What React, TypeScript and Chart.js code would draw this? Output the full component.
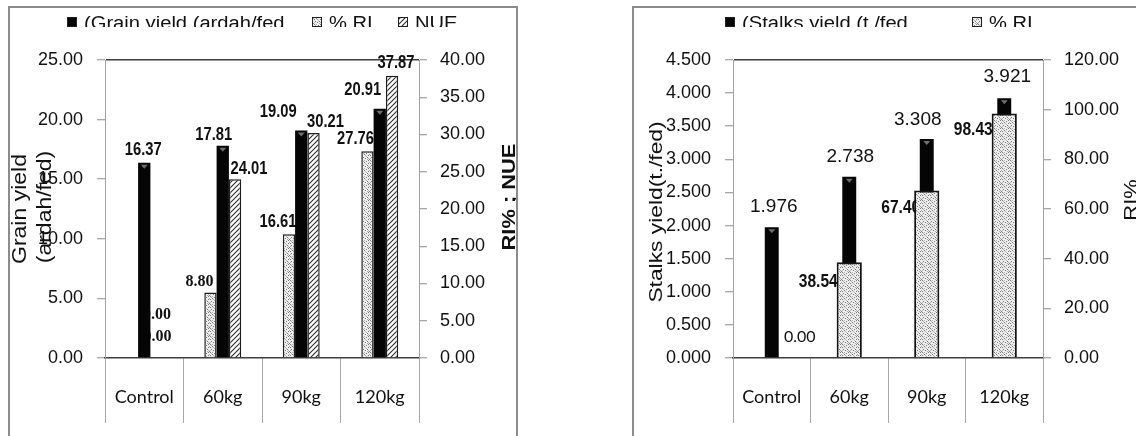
import React, { useEffect, useRef } from 'react';
import { Chart, registerables } from 'chart.js';

Chart.register(...registerables);

// Nitrogen levels shared by both panels
const doseLevels = ['Control', '60kg', '90kg', '120kg'];

// Grain panel series
const grainYield = [16.37, 17.81, 19.09, 20.91];
const grainRI = [0.0, 8.8, 16.61, 27.76];
const grainNUE = [0.0, 24.01, 30.21, 37.87];
const grainYieldTicks = [0, 5, 10, 15, 20, 25];
const grainRiNueTicks = [0, 5, 10, 15, 20, 25, 30, 35, 40];
const grainLegendText = ['(Grain yield (ardah/fed', '% RI', 'NUE'];

// Stalks panel series
const stalksYield = [1.976, 2.738, 3.308, 3.921];
const stalksRI = [0.0, 38.54, 67.4, 98.43];
const stalksYieldTicks = [0, 0.5, 1, 1.5, 2, 2.5, 3, 3.5, 4, 4.5];
const stalksRiTicks = [0, 20, 40, 60, 80, 100, 120];
const stalksLegendText = ['(Stalks yield (t./fed', '% RI'];

const SANS = '"Liberation Sans", Arial, sans-serif';
const TICK_FONT = { family: '"Liberation Sans", Arial, sans-serif', size: 18 };
const CAT_FONT = { family: 'Lato, sans-serif', size: 18 };

type Nudge = [number, number];
interface LabelFont { font: string; squeeze: number }
interface LabelSet {
  dataset: number;
  digits: number;
  style: LabelFont;
  nudge: Nudge[];
  overrides?: (LabelFont | null)[];
}
interface AxisTitle { text: string; x: number; dy: number; font: string; stretch: number }
interface LegendSlot { dataset: number; x: number }
interface LegendStyle { boxTop: number; baseline: number; clipBottom: number; font: string; stretch: number }

function makeStipple(ctx: CanvasRenderingContext2D): CanvasPattern {
  const tile = document.createElement('canvas');
  tile.width = 8;
  tile.height = 8;
  const g = tile.getContext('2d')!;
  g.fillStyle = '#eeeeee';
  g.fillRect(0, 0, 8, 8);
  g.fillStyle = '#7a7a7a';
  [[0, 0], [4, 1], [2, 2], [6, 3], [1, 5], [5, 5], [3, 6], [7, 7], [6, 0], [0, 3]].forEach(([x, y]) =>
    g.fillRect(x, y, 1, 1)
  );
  g.fillStyle = '#b0b0b0';
  [[2, 0], [7, 2], [4, 4], [0, 6], [5, 7], [3, 3], [1, 1], [6, 6]].forEach(([x, y]) => g.fillRect(x, y, 1, 1));
  return ctx.createPattern(tile, 'repeat')!;
}

function makeHatch(ctx: CanvasRenderingContext2D): CanvasPattern {
  const s = 5;
  const tile = document.createElement('canvas');
  tile.width = s;
  tile.height = s;
  const g = tile.getContext('2d')!;
  g.fillStyle = '#ffffff';
  g.fillRect(0, 0, s, s);
  g.strokeStyle = '#2e2e2e';
  g.lineWidth = 1.1;
  g.beginPath();
  g.moveTo(-1, s + 1);
  g.lineTo(s + 1, -1);
  g.moveTo(-1, 1);
  g.lineTo(1, -1);
  g.moveTo(s - 1, s + 1);
  g.lineTo(s + 1, s - 1);
  g.stroke();
  return ctx.createPattern(tile, 'repeat')!;
}

// Value labels sit behind the bars, as in the spreadsheet original
function valueLabelsPlugin(sets: LabelSet[]) {
  return {
    id: 'valueLabels',
    beforeDatasetsDraw(chart: any) {
      const { ctx } = chart;
      sets.forEach((set) => {
        const meta = chart.getDatasetMeta(set.dataset);
        const values = chart.data.datasets[set.dataset].data as number[];
        meta.data.forEach((bar: any, i: number) => {
          const style = (set.overrides && set.overrides[i]) || set.style;
          ctx.save();
          ctx.font = style.font;
          ctx.fillStyle = '#111111';
          ctx.textAlign = 'center';
          ctx.textBaseline = 'middle';
          ctx.translate(bar.x + set.nudge[i][0], bar.y + set.nudge[i][1]);
          ctx.scale(style.squeeze, 1);
          ctx.fillText(values[i].toFixed(set.digits), 0, 0);
          ctx.restore();
        });
      });
    },
  };
}

// Small grey bevel mark on top of the solid black bars
function barCapsPlugin(dataset: number) {
  return {
    id: 'barCaps',
    afterDatasetsDraw(chart: any) {
      const { ctx } = chart;
      const meta = chart.getDatasetMeta(dataset);
      ctx.save();
      ctx.fillStyle = '#6e6e6e';
      meta.data.forEach((bar: any) => {
        const half = Math.min(3.5, bar.width / 2 - 2);
        ctx.beginPath();
        ctx.moveTo(bar.x - half, bar.y + 2);
        ctx.lineTo(bar.x + half, bar.y + 2);
        ctx.lineTo(bar.x, bar.y + 6);
        ctx.closePath();
        ctx.fill();
      });
      ctx.restore();
    },
  };
}

// Rotated axis titles reading bottom-to-top on both sides
function axisTitlesPlugin(titles: AxisTitle[]) {
  return {
    id: 'axisTitles',
    afterDraw(chart: any) {
      const { ctx, chartArea } = chart;
      const cy = (chartArea.top + chartArea.bottom) / 2;
      titles.forEach((t) => {
        ctx.save();
        ctx.translate(t.x, cy + t.dy);
        ctx.rotate(-Math.PI / 2);
        ctx.scale(t.stretch, 1);
        ctx.font = t.font;
        ctx.fillStyle = '#111111';
        ctx.textAlign = 'center';
        ctx.textBaseline = 'middle';
        ctx.fillText(t.text, 0, 0);
        ctx.restore();
      });
    },
  };
}

// Legend row whose text is cut off just above the baseline
function clippedLegendPlugin(slots: LegendSlot[], style: LegendStyle) {
  return {
    id: 'clippedLegend',
    afterDraw(chart: any) {
      const { ctx } = chart;
      slots.forEach((slot) => {
        const ds = chart.data.datasets[slot.dataset];
        ctx.save();
        ctx.fillStyle = ds.backgroundColor;
        ctx.fillRect(slot.x, style.boxTop, 10, 10);
        ctx.strokeStyle = '#222222';
        ctx.lineWidth = 1;
        ctx.strokeRect(slot.x + 0.5, style.boxTop + 0.5, 9, 9);
        ctx.restore();

        ctx.save();
        ctx.beginPath();
        ctx.rect(0, 0, chart.width, style.clipBottom);
        ctx.clip();
        ctx.font = style.font;
        ctx.fillStyle = '#111111';
        ctx.textAlign = 'left';
        ctx.textBaseline = 'alphabetic';
        ctx.translate(slot.x + 17, style.baseline);
        ctx.scale(style.stretch, 1);
        ctx.fillText(ds.label, 0, 0);
        ctx.restore();
      });
    },
  };
}

function valueAxis(
  position: 'left' | 'right',
  ticks: number[],
  digits: number,
  width: number,
  onChart: boolean
) {
  const top = ticks[ticks.length - 1];
  return {
    position,
    min: ticks[0],
    max: top,
    afterBuildTicks: (scale: any) => {
      scale.ticks = ticks.map((value) => ({ value }));
    },
    afterFit: (scale: any) => {
      scale.width = width;
    },
    ticks: {
      callback: (v: any) => Number(v).toFixed(digits),
      font: TICK_FONT,
      color: '#111111',
      padding: position === 'left' ? 14 : 13,
    },
    grid: {
      drawOnChartArea: onChart,
      color: (c: any) => (c.tick && c.tick.value === top ? '#3f3f3f' : 'rgba(0,0,0,0)'),
      lineWidth: 1.5,
      tickColor: '#8c8c8c',
      tickWidth: 1,
      tickLength: 8,
    },
    border: { display: true, color: '#a3a3a3', width: 1 },
  };
}

function categoryAxis() {
  return {
    type: 'category' as const,
    offset: true,
    afterFit: (scale: any) => {
      scale.height = 70;
    },
    grid: {
      offset: true,
      drawOnChartArea: false,
      drawTicks: true,
      tickLength: 65,
      tickColor: '#a8a8a8',
      tickWidth: 1,
      color: '#a8a8a8',
    },
    border: { display: true, color: '#3f3f3f', width: 1.5 },
    ticks: { font: CAT_FONT, color: '#111111', padding: -37, maxRotation: 0, autoSkip: false },
  };
}

const legendStyle: LegendStyle = {
  boxTop: 9,
  baseline: 21,
  clipBottom: 19,
  font: `18px ${SANS}`,
  stretch: 1.12,
};

function GrainPanel() {
  const ref = useRef<HTMLCanvasElement>(null);
  useEffect(() => {
    const canvas = ref.current!;
    const ctx = canvas.getContext('2d')!;
    const stipple = makeStipple(ctx);
    const hatch = makeHatch(ctx);
    const narrow: LabelFont = { font: `bold 18px ${SANS}`, squeeze: 0.82 };
    const serif: LabelFont = { font: 'bold 16px "Liberation Serif", serif', squeeze: 1 };

    const chart = new Chart(canvas, {
      type: 'bar',
      data: {
        labels: doseLevels,
        datasets: [
          {
            label: grainLegendText[1],
            data: grainRI,
            yAxisID: 'y1',
            backgroundColor: stipple,
            borderColor: '#1e1e1e',
            borderWidth: 1.5,
            categoryPercentage: 0.47,
            barPercentage: 1,
          },
          {
            label: grainLegendText[0],
            data: grainYield,
            yAxisID: 'y',
            backgroundColor: '#050505',
            borderWidth: 0,
            categoryPercentage: 0.47,
            barPercentage: 1,
          },
          {
            label: grainLegendText[2],
            data: grainNUE,
            yAxisID: 'y1',
            backgroundColor: hatch,
            borderColor: '#1e1e1e',
            borderWidth: 1.5,
            categoryPercentage: 0.47,
            barPercentage: 1,
          },
        ] as any,
      },
      options: {
        responsive: false,
        animation: false,
        devicePixelRatio: 1,
        layout: { padding: { top: 52, bottom: 8, left: 0, right: 0 } },
        plugins: { legend: { display: false }, tooltip: { enabled: false }, title: { display: false } },
        scales: {
          x: categoryAxis(),
          y: valueAxis('left', grainYieldTicks, 2, 95, true),
          y1: valueAxis('right', grainRiNueTicks, 2, 97, false),
        } as any,
      },
      plugins: [
        valueLabelsPlugin([
          {
            dataset: 0,
            digits: 2,
            style: narrow,
            nudge: [[25, -43], [-11, -11], [-11, -12], [-12, -12]],
            overrides: [serif, serif, null, null],
          },
          { dataset: 1, digits: 2, style: narrow, nudge: [[-1, -13], [-9, -11], [-23, -18], [-17, -19]] },
          {
            dataset: 2,
            digits: 2,
            style: narrow,
            nudge: [[1, -21], [14, -10], [12, -11], [4, -13]],
            overrides: [serif, null, null, null],
          },
        ]),
        barCapsPlugin(1),
        axisTitlesPlugin([
          { text: 'Grain yield', x: 10, dy: 0, font: `20px ${SANS}`, stretch: 1.15 },
          { text: '(ardah/fed)', x: 35, dy: -2, font: `20px ${SANS}`, stretch: 1.15 },
          { text: 'RI% ; NUE', x: 500, dy: -12, font: `bold 19px ${SANS}`, stretch: 1.15 },
        ]),
        clippedLegendPlugin(
          [
            { dataset: 1, x: 57 },
            { dataset: 0, x: 302 },
            { dataset: 2, x: 388 },
          ],
          legendStyle
        ),
      ],
    });
    return () => chart.destroy();
  }, []);
  return <canvas ref={ref} width={506} height={428} style={{ position: 'absolute', left: 10, top: 8 }} />;
}

function StalksPanel() {
  const ref = useRef<HTMLCanvasElement>(null);
  useEffect(() => {
    const canvas = ref.current!;
    const ctx = canvas.getContext('2d')!;
    const stipple = makeStipple(ctx);
    const narrow: LabelFont = { font: `bold 19px ${SANS}`, squeeze: 0.82 };

    const chart = new Chart(canvas, {
      type: 'bar',
      data: {
        labels: doseLevels,
        datasets: [
          {
            label: stalksLegendText[1],
            data: stalksRI,
            yAxisID: 'y1',
            backgroundColor: stipple,
            borderColor: '#141414',
            borderWidth: 2,
            grouped: false,
            categoryPercentage: 1,
            barPercentage: 0.325,
          },
          {
            label: stalksLegendText[0],
            data: stalksYield,
            yAxisID: 'y',
            backgroundColor: '#050505',
            borderWidth: 0,
            grouped: false,
            categoryPercentage: 1,
            barPercentage: 0.18,
          },
        ] as any,
      },
      options: {
        responsive: false,
        animation: false,
        devicePixelRatio: 1,
        layout: { padding: { top: 52, bottom: 8, left: 0, right: 0 } },
        plugins: { legend: { display: false }, tooltip: { enabled: false }, title: { display: false } },
        scales: {
          x: categoryAxis(),
          y: valueAxis('left', stalksYieldTicks, 3, 99, true),
          y1: valueAxis('right', stalksRiTicks, 2, 93, false),
        } as any,
      },
      plugins: [
        valueLabelsPlugin([
          {
            dataset: 0,
            digits: 2,
            style: narrow,
            nudge: [[28, -21], [-31, 19], [-26, 17], [-31, 16]],
            overrides: [{ font: '16px Lato, sans-serif', squeeze: 1 }, null, null, null],
          },
          {
            dataset: 1,
            digits: 3,
            style: { font: `19px ${SANS}`, squeeze: 1 },
            nudge: [[2, -20], [1, -20], [-9, -19], [3, -22]],
          },
        ]),
        barCapsPlugin(1),
        axisTitlesPlugin([
          { text: 'Stalks yield(t./fed)', x: 23, dy: 3, font: `19px ${SANS}`, stretch: 1.2 },
          { text: 'RI%', x: 498, dy: -9, font: `19px ${SANS}`, stretch: 1.15 },
        ]),
        clippedLegendPlugin(
          [
            { dataset: 1, x: 91 },
            { dataset: 0, x: 338 },
          ],
          legendStyle
        ),
      ],
    });
    return () => chart.destroy();
  }, []);
  return <canvas ref={ref} width={502} height={428} style={{ position: 'absolute', left: 634, top: 8 }} />;
}

export default function App() {
  return (
    <div
      style={{
        position: 'absolute',
        left: 0,
        top: 0,
        width: 1136,
        height: 436,
        overflow: 'hidden',
        background: '#ffffff',
      }}
    >
      <div
        style={{ position: 'absolute', left: 8, top: 6, width: 506, height: 460, border: '2px solid #8c8c8c' }}
      />
      <div
        style={{ position: 'absolute', left: 632, top: 6, width: 530, height: 460, border: '2px solid #8c8c8c' }}
      />
      <GrainPanel />
      <StalksPanel />
    </div>
  );
}
